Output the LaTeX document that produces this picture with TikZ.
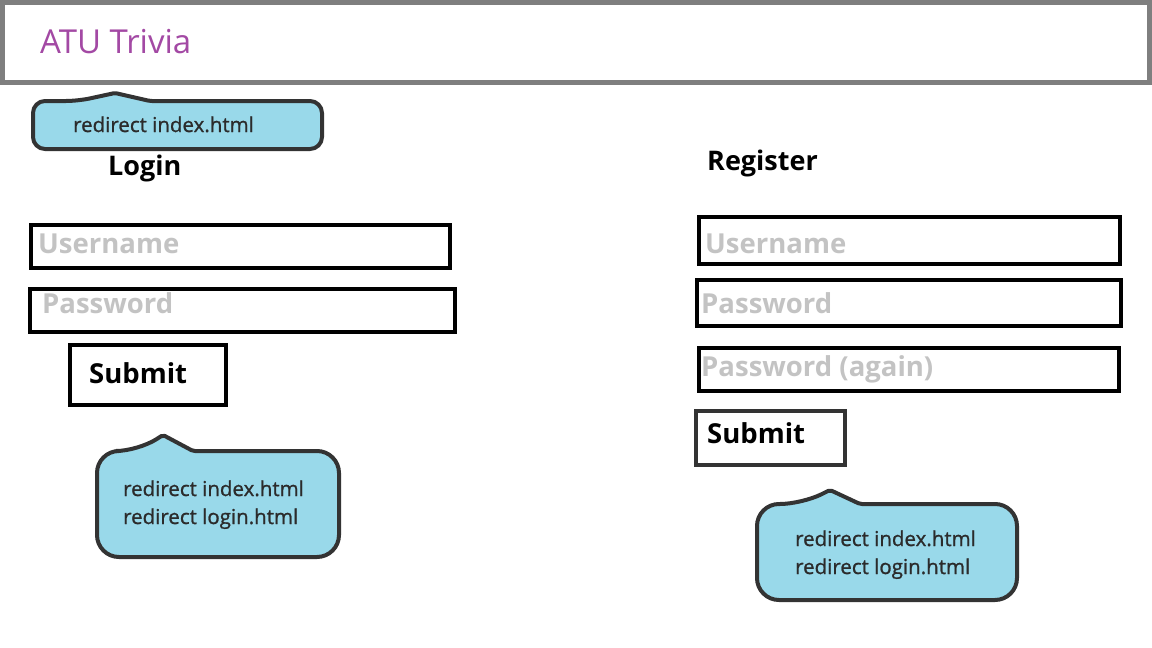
\documentclass[tikz,border=0pt]{standalone}
\usepackage{fontspec}
\setmainfont{Open Sans}
\newfontfamily\notefont{Open Sans}[BoldFont={Open Sans},BoldFeatures={FakeBold=1.1}]
\definecolor{titlepurple}{HTML}{A349A4}
\definecolor{fieldgray}{HTML}{C3C3C3}
\definecolor{calloutfill}{HTML}{99D9EA}
\definecolor{calloutline}{HTML}{333333}
\definecolor{headergray}{HTML}{7F7F7F}
\definecolor{notetext}{HTML}{2B2B2B}
\begin{document}
\begin{tikzpicture}[x=1pt,y=-1pt,
  txt/.style={inner sep=0pt,anchor=base west},
  field/.style={draw=black,line width=4.5pt},
  fieldtxt/.style={txt,text=fieldgray,font=\fontsize{27.5}{32}\selectfont\bfseries},
  btntxt/.style={txt,text=black,font=\fontsize{27.5}{32}\selectfont\bfseries},
  headtxt/.style={txt,text=black,font=\fontsize{27}{32}\selectfont\bfseries},
  notetxt/.style={txt,text=notetext,font=\notefont\fontsize{20.5}{24}\selectfont\bfseries},
  callout/.style={draw=calloutline,fill=calloutfill,line width=4pt,line join=round}]
\useasboundingbox (0,0) rectangle (1152,648);
\fill[white] (0,0) rectangle (1152,648);
% header
\draw[headergray,line width=5pt] (2.5,2.5) rectangle (1149.5,82);
\node[txt,text=titlepurple,font=\fontsize{33}{38}\selectfont] (title) at (40,53) {ATU Trivia};
% top callout
\draw[callout] (33,125) [rounded corners=12] -- (33,101) -- (78,101) [rounded corners=2] -- (115,93) -- (150,101) [rounded corners=12] -- (322,101) -- (322,149) -- (33,149) -- cycle;
\node[notetxt] (note1) at (73,132) {redirect index.html};
% login
\node[headtxt] (login) at (108,175) {Login};
\draw[field] (31,225) rectangle (450,268);
\node[fieldtxt] (luser) at (38,253) {Username};
\draw[field] (30,289) rectangle (455,332);
\node[fieldtxt] (lpass) at (42,313) {Password};
\draw[field] (70,345) rectangle (226,405);
\node[btntxt] (lsubmit) at (89,383) {Submit};
% login callout
\draw[callout] (97,504) [rounded corners=22] -- (97,451) -- (138,451) [rounded corners=2] -- (163,435) -- (193,451) [rounded corners=22] -- (339,451) -- (339,557) -- (97,557) -- cycle;
\node[notetxt] (note2a) at (123,496) {redirect index.html};
\node[notetxt] (note2b) at (123,524) {redirect login.html};
% register
\node[headtxt] (register) at (707,170) {Register};
\draw[field] (699,217) rectangle (1120,264);
\node[fieldtxt] (ruser) at (705,253) {Username};
\draw[field] (697,280) rectangle (1121,326);
\node[fieldtxt] (rpass) at (701,313) {Password};
\draw[field] (699,348) rectangle (1119,391);
\node[fieldtxt] (rpass2) at (701,376) {Password (again)};
\draw[field,draw=calloutline] (696,411) rectangle (845,465);
\node[btntxt] (rsubmit) at (707,443) {Submit};
% register callout
\draw[callout] (757,552) [rounded corners=22] -- (757,504) -- (802,504) [rounded corners=2] -- (830,490) -- (860,504) [rounded corners=22] -- (1017,504) -- (1017,600) -- (757,600) -- cycle;
\node[notetxt] (note3a) at (795,546) {redirect index.html};
\node[notetxt] (note3b) at (795,574) {redirect login.html};
\end{tikzpicture}
\end{document}
